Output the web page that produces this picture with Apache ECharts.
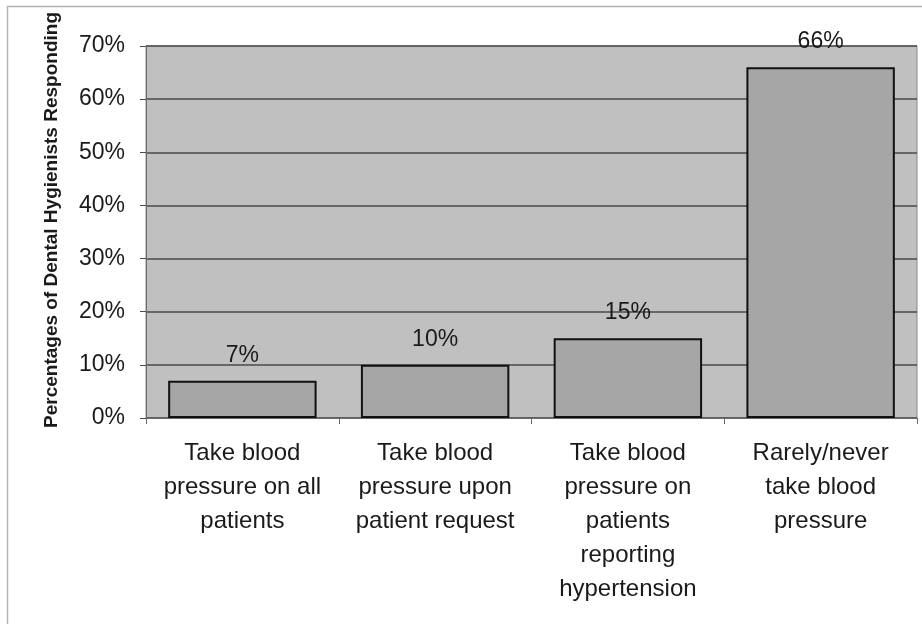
<!DOCTYPE html>
<html>
<head>
<meta charset="utf-8">
<script src="https://cdn.jsdelivr.net/npm/echarts@6/dist/echarts.min.js"></script>
<style>
  html, body { margin: 0; padding: 0; background: #fff; }
  #chart { width: 922px; height: 624px; }
</style>
</head>
<body>
<div id="chart"></div>
<script>
const categories = [
    'Take blood\npressure on all\npatients',
    'Take blood\npressure upon\npatient request',
    'Take blood\npressure on\npatients\nreporting\nhypertension',
    'Rarely/never\ntake blood\npressure'
];
const percentages = [7, 10, 15, 66];
const yTicks = [0, 10, 20, 30, 40, 50, 60, 70];
const yTitle = 'Percentages of Dental Hygienists Responding';

const myChart = echarts.init(document.getElementById('chart'), null, { renderer: 'canvas' });

const option = {
    animation: false,
    textStyle: { fontFamily: 'Liberation Sans, Arial, sans-serif' },
    graphic: [
        {
            // frame: only the top and left edges show in the picture
            type: 'polyline',
            shape: { points: [[7.5, 624], [7.5, 6.5], [922, 6.5]] },
            style: { fill: 'none', stroke: '#b4b4b4', lineWidth: 1.5 },
            z: -1
        },
        {
            type: 'text',
            x: 52,
            y: 220,
            rotation: Math.PI / 2,
            style: {
                text: yTitle,
                fontSize: 19,
                fontWeight: 'bold',
                fontFamily: 'Liberation Sans, Arial, sans-serif',
                fill: '#1a1a1a',
                align: 'center',
                verticalAlign: 'middle'
            }
        }
    ],
    grid: {
        left: 146,
        top: 46,
        right: 5,
        bottom: 206,
        show: true,
        backgroundColor: '#c0c0c0',
        borderColor: '#8a8a8a',
        borderWidth: 1
    },
    xAxis: {
        type: 'category',
        data: categories,
        axisLine: { lineStyle: { color: '#6a6a6a', width: 1 } },
        axisTick: { show: true, alignWithLabel: false, length: 6, lineStyle: { color: '#6a6a6a' } },
        axisLabel: {
            color: '#1a1a1a',
            fontSize: 24,
            lineHeight: 34,
            margin: 18,
            interval: 0
        }
    },
    yAxis: {
        type: 'value',
        min: yTicks[0],
        max: yTicks[yTicks.length - 1],
        interval: 10,
        axisLine: { show: true, lineStyle: { color: '#6a6a6a' } },
        axisTick: { show: true, length: 6, lineStyle: { color: '#4a4a4a' } },
        axisLabel: {
            color: '#1a1a1a',
            fontSize: 23,
            margin: 21,
            formatter: v => v + '%'
        },
        splitLine: { show: true, lineStyle: { color: '#4a4a4a', width: 1.5 } }
    },
    series: [
        {
            type: 'bar',
            data: percentages,
            barCategoryGap: '23%',
            itemStyle: {
                color: '#a6a6a6',
                borderColor: '#111',
                borderWidth: 2
            },
            label: {
                show: true,
                position: 'top',
                distance: 14,
                fontSize: 23,
                color: '#1a1a1a',
                formatter: p => p.value + '%'
            }
        }
    ]
};

myChart.setOption(option);
</script>
</body>
</html>
